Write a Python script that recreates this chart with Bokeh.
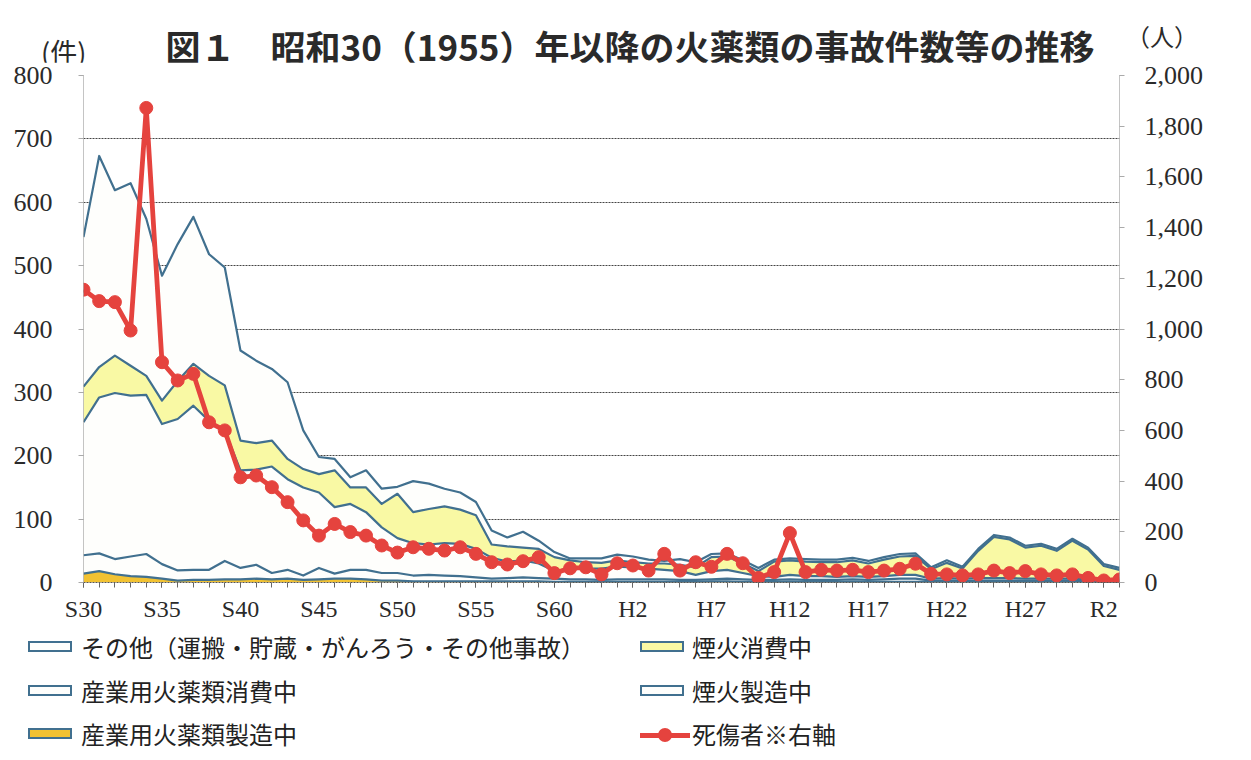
import numpy as np
from bokeh.plotting import figure
from bokeh.layouts import column
from bokeh.models import (Range1d, LinearAxis, FixedTicker, NumeralTickFormatter, Div)
from bokeh.embed import file_html
from bokeh.resources import INLINE

# ---------------- data ----------------
years = list(range(1955, 2022))

# 産業用火薬類製造中 (bottom of stack)
ind_mfg = [14, 18, 13, 10, 9, 6, 3, 4, 4, 5,
           5, 6, 5, 6, 4, 5, 6, 6, 5, 3,
           3, 2, 2, 2, 2, 2, 2, 2, 2, 2,
           1, 1, 1, 1, 1, 1, 1, 1, 1, 1,
           2, 2, 1, 1, 1, 1, 1, 1, 1, 1,
           1, 1, 1, 1, 1, 1, 1, 1, 1, 1,
           1, 1, 1, 1, 1, 1, 1]
# 煙火製造中
fw_mfg = [29, 28, 24, 31, 36, 23, 16, 16, 16, 29,
          18, 22, 10, 14, 7, 18, 8, 14, 15, 12,
          12, 9, 10, 9, 8, 6, 4, 5, 6, 5,
          5, 4, 4, 3, 4, 4, 4, 4, 3, 3,
          3, 4, 4, 3, 3, 4, 3, 3, 3, 4,
          3, 4, 5, 5, 2, 2, 2, 2, 2, 2,
          2, 2, 2, 2, 1, 1, 1]
# 産業用火薬類消費中
ind_use = [210, 246, 262, 254, 251, 221, 239, 259, 235, 206,
           154, 150, 168, 143, 139, 119, 105, 104, 91, 72,
           55, 51, 48, 51, 51, 45, 33, 26, 27, 23,
           12, 17, 17, 18, 20, 19, 17, 15, 14, 8,
           13, 14, 10, 6, 5, 7, 6, 6, 5, 5,
           5, 5, 6, 6, 3, 4, 3, 4, 4, 4,
           3, 3, 3, 3, 3, 3, 2]
# 煙火消費中
fw_use = [56, 48, 59, 47, 30, 37, 60, 66, 71, 71,
          47, 42, 41, 32, 29, 29, 58, 26, 39, 37,
          70, 49, 56, 58, 54, 53, 21, 24, 20, 23,
          22, 13, 10, 9, 10, 8, 8, 10, 10, 12,
          22, 21, 15, 8, 24, 23, 23, 22, 23, 25,
          21, 26, 29, 30, 15, 24, 16, 43, 65, 61,
          49, 52, 44, 60, 47, 21, 16]
# その他（運搬・貯蔵・がんろう・その他事故） (top of stack)
other = [236, 333, 261, 288, 248, 197, 216, 232, 192, 186,
         142, 130, 113, 121, 61, 27, 18, 16, 27, 24,
         11, 49, 40, 28, 27, 21, 22, 14, 25, 13,
         8, 3, 6, 7, 9, 9, 6, 4, 9, 8,
         5, 5, 5, 5, 3, 3, 4, 4, 4, 4,
         4, 4, 4, 4, 3, 4, 3, 3, 3, 3,
         3, 3, 3, 3, 3, 3, 3]
# 死傷者 (right axis, 人)
casualties = [1155, 1110, 1106, 994, 1872, 869, 797, 823, 632, 600,
              415, 422, 376, 317, 245, 185, 231, 199, 185, 146,
              118, 139, 133, 126, 139, 113, 80, 71, 84, 100,
              37, 56, 60, 32, 76, 67, 47, 113, 47, 80,
              62, 113, 76, 18, 41, 195, 41, 50, 47, 50,
              41, 47, 54, 74, 34, 32, 28, 32, 47, 37,
              45, 32, 28, 32, 18, 8, 12]

x_tick_years = [1955, 1960, 1965, 1970, 1975, 1980, 1985, 1990,
                1995, 2000, 2005, 2010, 2015, 2020]
x_tick_labels = ["S30", "S35", "S40", "S45", "S50", "S55", "S60", "H2",
                 "H7", "H12", "H17", "H22", "H27", "R2"]
left_ticks = [0, 100, 200, 300, 400, 500, 600, 700, 800]
right_ticks = [0, 200, 400, 600, 800, 1000, 1200, 1400, 1600, 1800, 2000]

names = {
    "other": "その他（運搬・貯蔵・がんろう・その他事故）",
    "fw_use": "煙火消費中",
    "ind_use": "産業用火薬類消費中",
    "fw_mfg": "煙火製造中",
    "ind_mfg": "産業用火薬類製造中",
    "cas": "死傷者※右軸",
}
title_text = "図１　昭和30（1955）年以降の火薬類の事故件数等の推移"
left_unit = "(件)"
right_unit = "（人）"

# ---------------- style ----------------
BLUE = "#41708f"
YELLOW = "#f9f9a4"
GOLD = "#f2c232"
WHITE = "#fefefc"
RED = "#e5433e"
JP = "Noto Sans CJK JP"
SERIF = "Liberation Serif"
TXT = "#2a2a2a"

W = 1251
FL, FR, FT, FB = 83, 1119, 75, 582   # frame edges in page pixels
HEAD_H = 62                          # header strip (title + units)
PLOT_BOTTOM = 630                    # bottom of the figure (below x labels)
LEG_H = 760 - PLOT_BOTTOM

# ---------------- header ----------------
def span(txt, left, top, size, extra=""):
    return (f'<span style="position:absolute;left:{left}px;top:{top}px;'
            f'font-size:{size}px;line-height:{size + 4}px;white-space:nowrap;{extra}">'
            f'{txt}</span>')

head_html = (
    f'<div style="position:relative;width:{W}px;height:{HEAD_H}px;'
    f'font-family:\'{JP}\';color:{TXT};overflow:visible">'
    + span(title_text, 630, 26, 35, "font-weight:bold;transform:translateX(-50%);")
    + span(left_unit, 41, 36, 27)
    + span(right_unit, 1126, 22, 24)
    + '</div>'
)
head = Div(text=head_html, width=W, height=HEAD_H, margin=(0, 0, 0, 0))

# ---------------- main chart ----------------
p = figure(width=W, height=PLOT_BOTTOM - HEAD_H, x_range=Range1d(1955, 2021),
           y_range=Range1d(0, 800), output_backend="svg", toolbar_location=None,
           min_border_left=FL, min_border_right=W - FR,
           min_border_top=FT - HEAD_H, min_border_bottom=PLOT_BOTTOM - FB)
p.extra_y_ranges = {"right": Range1d(0, 2000)}
p.outline_line_color = None
p.title.text = ""
p.title.standoff = 0
p.margin = (0, 0, 0, 0)

layers = [("ind_mfg", ind_mfg, GOLD), ("fw_mfg", fw_mfg, WHITE),
          ("ind_use", ind_use, WHITE), ("fw_use", fw_use, YELLOW),
          ("other", other, WHITE)]
base = np.zeros(len(years))
tops = []
for key, vals, col in layers:
    top = base + np.array(vals, dtype=float)
    p.varea(x=years, y1=base, y2=top, fill_color=col)
    tops.append(top)
    base = top
for top in tops:
    p.line(years, top, line_color=BLUE, line_width=2.2, line_join="round")

p.line(years, casualties, y_range_name="right", line_color=RED,
       line_width=4.8, line_join="round")
p.scatter(years, casualties, y_range_name="right", size=13,
          fill_color=RED, line_color=RED)

# axes
p.xaxis.ticker = FixedTicker(ticks=x_tick_years, minor_ticks=years)
p.xaxis.major_label_overrides = dict(zip(x_tick_years, x_tick_labels))
p.xaxis.major_label_text_font = SERIF
p.xaxis.major_label_text_font_size = "24px"
p.xaxis.major_label_text_color = TXT
p.xaxis.major_label_standoff = 8
p.xaxis.axis_line_color = "#555555"
p.xaxis.axis_line_dash = "2 1"
p.xaxis.major_tick_out = 5
p.xaxis.major_tick_in = 0
p.xaxis.minor_tick_out = 5
p.xaxis.minor_tick_in = 0
p.xaxis.major_tick_line_color = "#666666"
p.xaxis.minor_tick_line_color = "#666666"

p.yaxis.ticker = FixedTicker(ticks=left_ticks)
p.yaxis.major_label_text_font = SERIF
p.yaxis.major_label_text_font_size = "26px"
p.yaxis.major_label_text_color = TXT
p.yaxis.major_label_standoff = 26
p.yaxis.axis_line_color = "#888888"
p.yaxis.axis_line_dash = "1 1"
p.yaxis.major_tick_out = 5
p.yaxis.major_tick_in = 0
p.yaxis.major_tick_line_color = "#aaaaaa"
p.yaxis.minor_tick_line_color = None

ry = LinearAxis(y_range_name="right", ticker=FixedTicker(ticks=right_ticks),
                formatter=NumeralTickFormatter(format="0,0"))
ry.major_label_text_font = SERIF
ry.major_label_text_font_size = "26px"
ry.major_label_text_color = TXT
ry.major_label_standoff = 20
ry.axis_line_color = "#888888"
ry.axis_line_dash = "1 1"
ry.major_tick_out = 5
ry.major_tick_in = 0
ry.major_tick_line_color = "#aaaaaa"
ry.minor_tick_line_color = None
p.add_layout(ry, "right")

p.xgrid.visible = False
p.ygrid.ticker = FixedTicker(ticks=left_ticks[1:])
p.ygrid.grid_line_color = "#444444"
p.ygrid.grid_line_dash = "2 1"
p.ygrid.grid_line_width = 1

# ---------------- legend (below the chart) ----------------
def swatch(left, cy, fill):
    return (f'<span style="position:absolute;left:{left}px;top:{cy - 7}px;width:44px;'
            f'height:11px;background:{fill};border:2px solid {BLUE}"></span>')

def red_key(left, cy):
    return (f'<span style="position:absolute;left:{left}px;top:{cy - 2}px;width:50px;'
            f'height:5px;background:{RED}"></span>'
            f'<span style="position:absolute;left:{left + 18}px;top:{cy - 7}px;width:14px;'
            f'height:14px;border-radius:50%;background:{RED}"></span>')

rows = [648 - PLOT_BOTTOM, 692 - PLOT_BOTTOM, 735 - PLOT_BOTTOM]
C1_SW, C1_TX, C2_SW, C2_TX = 28, 81, 640, 692
leg_html = (
    f'<div style="position:relative;width:{W}px;height:{LEG_H}px;'
    f'font-family:\'{JP}\';color:#222222">'
    + swatch(C1_SW, rows[0], WHITE) + span(names["other"], C1_TX, rows[0] - 15, 24)
    + swatch(C1_SW, rows[1], WHITE) + span(names["ind_use"], C1_TX, rows[1] - 15, 24)
    + swatch(C1_SW, rows[2], GOLD) + span(names["ind_mfg"], C1_TX, rows[2] - 15, 24)
    + swatch(C2_SW, rows[0], YELLOW) + span(names["fw_use"], C2_TX, rows[0] - 15, 24)
    + swatch(C2_SW, rows[1], WHITE) + span(names["fw_mfg"], C2_TX, rows[1] - 15, 24)
    + red_key(C2_SW, rows[2]) + span(names["cas"], C2_TX, rows[2] - 15, 24)
    + '</div>'
)
leg = Div(text=leg_html, width=W, height=LEG_H, margin=(0, 0, 0, 0))

layout = column(head, p, leg, spacing=0)
open("out.html", "w").write(file_html(layout, INLINE))
